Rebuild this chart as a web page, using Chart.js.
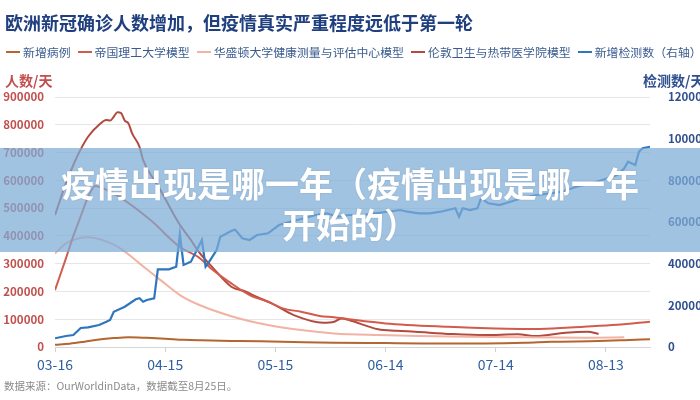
<!DOCTYPE html>
<html>
<head>
<meta charset="utf-8">
<script src="https://cdn.jsdelivr.net/npm/chart.js@4.4.0/dist/chart.umd.min.js"></script>
<style>
  html, body { margin:0; padding:0; background:#fff; }
  body { width:700px; height:400px; overflow:hidden; position:relative; font-family:"Noto Sans CJK SC","Noto Sans",sans-serif; }
  #wrap { position:absolute; left:0; top:0; width:720px; height:400px; }
  .abs { position:absolute; white-space:nowrap; }
  #title { left:5px; top:10px; font-size:18px; line-height:24px; font-weight:700; color:#1f3f7f; }
  #legend { left:6px; top:44px; height:16px; display:flex; align-items:center; font-size:11.9px; line-height:16px; color:#3b5b8f; }
  #legend .item { display:flex; align-items:center; margin-right:7px; }
  #legend .mk { display:inline-block; width:14px; height:2px; margin-right:3px; }
  #yl { left:5px; top:70px; font-size:14px; line-height:20px; font-weight:700; color:#c0504d; }
  #yr { left:643px; top:70px; font-size:14px; line-height:20px; font-weight:700; color:#2f4f8f; }
  #foot { left:4px; top:378px; font-size:10.5px; line-height:16px; color:#8a8a8a; }
  #band { left:0; top:148px; width:700px; height:104px; background:rgba(125,172,215,0.72); }
  #bandText { left:0; top:148px; width:700px; text-align:center; font-size:34px; line-height:41px; padding-top:14px; font-weight:700; color:#fff; text-shadow:0 0 2px rgba(0,0,0,0.15); }
</style>
</head>
<body>
<div id="wrap"><canvas id="c" width="720" height="400"></canvas></div>
<div class="abs" id="title">欧洲新冠确诊人数增加，但疫情真实严重程度远低于第一轮</div>
<div class="abs" id="legend"></div>
<div class="abs" id="yl">人数/天</div>
<div class="abs" id="yr">检测数/天</div>
<div class="abs" id="foot">数据来源：OurWorldinData，数据截至8月25日。</div>
<div class="abs" id="band"></div>
<div class="abs" id="bandText">疫情出现是哪一年（疫情出现是哪一年<br>开始的）</div>
<script>
// Day index 0 = 03-16, last = 162 (08-25)
const xTickLabels = ['03-16','04-15','05-15','06-14','07-14','08-13'];
const seriesNames = ['新增病例','帝国理工大学模型','华盛顿大学健康测量与评估中心模型','伦敦卫生与热带医学院模型','新增检测数（右轴）'];
const seriesColors = ['#b5652f','#d25b4c','#f2b3a3','#b34a3f','#2f76bd'];

const casesDays = [0,4,8,12,16,20,25,30,35,40,50,62,76,90,100,117,128,135,148,155,162];
const casesVals = [8000,12000,19000,27000,32000,35000,33000,30000,26000,24000,21500,19000,15500,14000,13000,13000,15000,18500,21500,24500,28000];

const imperialDays = [0,3,5,7,9,11,13,17,26,34,39,43,48,53,58,62,67,72,76,80,90,107,120,132,144,153,162];
const imperialVals = [205000,320000,400000,470000,540000,580000,572000,545000,457000,360000,324000,277000,229000,187000,163000,139000,127000,112000,107000,100000,85000,73000,67000,64800,73000,80000,91000];

const ihmeDays = [0,3,6,9,12,15,18,23,29,34,39,48,58,67,76,88,99,112,126,144,155];
const ihmeVals = [337000,373000,390000,395000,389000,375000,353000,301000,238000,187000,153000,111000,79000,61000,49000,43000,39600,37000,35000,33500,35000];

const lshtmDays = [0,3,6,9,12,14,15,16,17,18,19,20,21,23,24,27,29,32,34,37,39,43,48,52,55,59,65,73,76,78,80,88,93,98,108,117,126,131,139,145,148];
const lshtmVals = [475000,590000,685000,757000,800000,817000,815000,829000,845000,842000,815000,805000,769000,721000,673000,601000,558000,485000,440000,385000,345000,285000,217000,199000,180000,157000,115000,87500,91000,103000,97000,63700,58700,55000,46800,43000,45700,39600,51500,55000,47000];

const testDays = [0,3,5,7,9,12,14,15,16,19,22,23,24,25,27,28,31,33,34,35,37,40,41,42,44,45,48,49,51,53,55,58,61,64,67,71,74,77,80,84,87,90,94,96,99,102,105,107,109,110,111,113,115,116,118,121,124,127,131,135,138,142,146,149,153,155,156,158,159,160,162];
const testVals = [41800,52800,57600,91200,94600,105600,121000,129600,169400,193400,229000,233800,217400,225600,233800,373000,373000,385400,542400,393600,409400,513600,385400,409400,465600,529400,556800,564000,521800,513600,537600,545800,585600,601400,614400,633600,641800,625400,633600,633600,641800,648000,657600,649400,641800,641800,649400,657600,665800,625400,665800,657600,665800,713800,689800,681600,697400,713800,729600,737800,745400,769400,785800,801600,825600,857800,889400,873600,937400,953800,961400];

const toPts = (days, vals) => days.map((d, i) => ({ x: d, y: vals[i] }));

// legend
const lg = document.getElementById('legend');
seriesNames.forEach((n, i) => {
  const it = document.createElement('span'); it.className = 'item';
  const mk = document.createElement('span'); mk.className = 'mk'; mk.style.background = seriesColors[i];
  const tx = document.createElement('span'); tx.textContent = n;
  it.appendChild(mk); it.appendChild(tx); lg.appendChild(it);
});

const fam = '"Noto Sans CJK SC","Noto Sans",sans-serif';
const model = (idx, days, vals) => ({
  label: seriesNames[idx], data: toPts(days, vals), borderColor: seriesColors[idx],
  backgroundColor: seriesColors[idx], borderWidth: 2, pointRadius: 0,
  cubicInterpolationMode: 'monotone', yAxisID: 'y', order: 1
});

new Chart(document.getElementById('c'), {
  type: 'line',
  data: {
    datasets: [
      model(0, casesDays, casesVals),
      model(1, imperialDays, imperialVals),
      model(2, ihmeDays, ihmeVals),
      model(3, lshtmDays, lshtmVals),
      { label: seriesNames[4], data: toPts(testDays, testVals), borderColor: seriesColors[4],
        backgroundColor: seriesColors[4], borderWidth: 2.2, pointRadius: 0, tension: 0,
        yAxisID: 'y1', order: 0 }
    ]
  },
  options: {
    responsive: false, animation: false, devicePixelRatio: 1,
    layout: { padding: { top: 97, left: 0, right: 0, bottom: 0 } },
    plugins: { legend: { display: false }, tooltip: { enabled: false } },
    scales: {
      x: {
        type: 'linear', min: 0, max: 162,
        afterFit(s) { s.height = 53; },
        grid: { drawOnChartArea: false, drawTicks: true, tickLength: 5, color: '#d0d0d0' },
        border: { display: true, color: '#d6d6d6' },
        ticks: { stepSize: 30, includeBounds: false, autoSkip: false, maxRotation: 0, padding: 4,
          color: '#2f5f9f', font: { size: 14, family: fam },
          callback: (v) => (v % 30 === 0 && xTickLabels[v / 30]) ? xTickLabels[v / 30] : '' }
      },
      y: {
        position: 'left', min: 0, max: 900000,
        afterFit(s) { s.width = 55; },
        grid: { color: '#e6e6e6', drawTicks: false },
        border: { display: false },
        ticks: { stepSize: 100000, padding: 11, color: '#c0504d',
          font: { size: 11.5, weight: 'bold', family: fam }, callback: (v) => String(v) }
      },
      y1: {
        position: 'right', min: 0, max: 1200000,
        afterFit(s) { s.width = 70; },
        grid: { drawOnChartArea: false, drawTicks: false },
        border: { display: false },
        ticks: { stepSize: 200000, padding: 18, color: '#2f4f8f',
          font: { size: 11.5, weight: 'bold', family: fam }, callback: (v) => String(v) }
      }
    }
  }
});
</script>
</body>
</html>
